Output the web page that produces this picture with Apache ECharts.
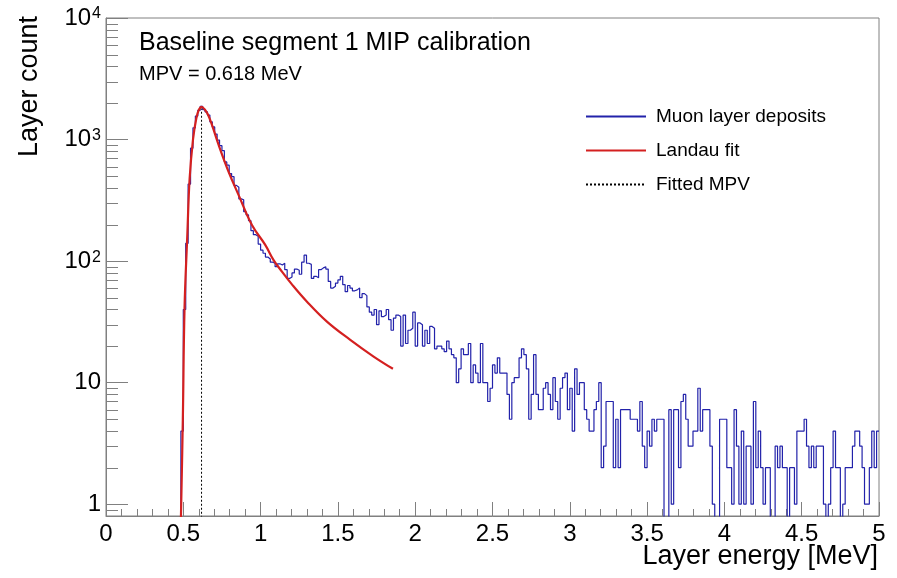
<!DOCTYPE html>
<html>
<head>
<meta charset="utf-8">
<script src="https://cdn.jsdelivr.net/npm/echarts@6/dist/echarts.min.js"></script>
<style>
html,body{margin:0;padding:0;background:#ffffff;}
#chart{width:897px;height:578px;}
</style>
</head>
<body>
<div id="chart"></div>
<script>
// ---------------- data ----------------
const histRange = [0, 5];
// counts per bin (320 bins of 0.015625 MeV)
const counts = [
  0,0,0,0,0,0,0,0,0,0,
  0,0,0,0,0,0,0,0,0,0,
  0,0,0,0,0,0,0,0,0,0,
  0,4,40,140,430,850,1250,1560,1740,1880,
  1760,1690,1590,1400,1270,1110,990,890,810,655,
  615,525,495,420,405,325,320,255,240,215,
  178,165,160,138,123,116,108,104,98,96,
  90,95,93,96,85,72,74,80,86,84,
  78,98,112,96,94,72,75,73,85,88,
  90,86,68,60,62,66,70,75,64,56,
  63,60,57,58,60,50,54,52,42,38,
  36,40,30,39,35,36,40,33,27,34,
  36,35,20,36,21,27,28,38,20,31,
  30,20,27,21,29,28,19,20,20,19,
  18,22,19,17,16,10,13,19,17,17,
  21,10,14,12,10,21,10,10,7,9,
  14,12,16,12,12,12,8,5,10,11,
  11,16,19,17,13,5,8,17,8,6,
  6,9,10,8,6,11,7,5,9,11,
  12,6,9,4,13,8,10,10,6,5,
  4,4,6,7,10,2,3,7,7,7,
  2,5,2,6,6,6,6,5,5,5,
  4,7,3,2,4,3,5,4,5,5,
  5,0,0,6,1,6,6,2,7,8,
  5,3,3,4,4,9,4,6,6,6,
  3,1,0,0,5,5,5,2,2,1,
  6,3,1,4,1,3,3,1,7,2,
  4,2,1,2,2,0,0,3,2,3,
  2,2,0,2,2,1,4,4,4,5,
  3,2,3,2,3,3,3,1,0,1,
  2,4,2,2,0,1,2,2,2,3,
  4,4,3,2,1,1,2,4,2,4
];
// Landau fit curve
const fitX = [0.484,0.497,0.508,0.526,0.541,0.563,0.584,0.600,0.618,0.640,0.660,0.686,0.729,0.793,0.858,0.944,1.030,1.084,1.138,1.200,1.300,1.429,1.580,1.731,1.856];
const fitY = [0.7,5,41,164,478,1010,1490,1750,1860,1760,1600,1313,900,543,349,198,136,102,82,65,46.4,31.8,22.5,16.4,13.0];
const mpvValue = 0.618;
const mpvTop = 1800;
const xTickLabels = ['0','0.5','1','1.5','2','2.5','3','3.5','4','4.5','5'];
const yMinorTicks = [0.9,2,3,4,5,6,7,8,9,20,30,40,50,60,70,80,90,200,300,400,500,600,700,800,900,2000,3000,4000,5000,6000,7000,8000,9000];
const legendNames = ['Muon layer deposits','Landau fit','Fitted MPV'];
const titleText = 'Baseline segment 1 MIP calibration';
const subText = 'MPV = 0.618 MeV';
const xTitle = 'Layer energy [MeV]';
const yTitle = 'Layer count';

// ---------------- build ----------------
const FONT = '"Liberation Sans", Arial, Helvetica, sans-serif';
const nb = counts.length;
const bw = (histRange[1] - histRange[0]) / nb;
const emptyLevel = 0.1; // empty bins fall below the frame
const histPts = [];
for (let i = 0; i < nb; i++) {
  const v = counts[i] > 0 ? counts[i] : emptyLevel;
  histPts.push([histRange[0] + i * bw, v], [histRange[0] + (i + 1) * bw, v]);
}
const fitPts = fitX.map((x, i) => [x, fitY[i]]);
const axisGray = '#808080';

const chart = echarts.init(document.getElementById('chart'), null, {renderer: 'canvas'});
chart.setOption({
  animation: false,
  backgroundColor: '#ffffff',
  grid: {left: 106, right: 18, top: 18, bottom: 62, show: true, borderColor: axisGray, borderWidth: 1, backgroundColor: 'transparent'},
  legend: {
    show: true, orient: 'vertical', left: 580, top: 102,
    itemWidth: 60, itemHeight: 14, itemGap: 15,
    itemStyle: {opacity: 0},
    textStyle: {fontSize: 19, fontFamily: FONT, color: '#000', padding: [0, 0, 0, 5]},
    data: legendNames
  },
  xAxis: {
    type: 'value', min: 0, max: 5, interval: 0.5,
    axisLine: {show: true, lineStyle: {color: axisGray, width: 1}},
    axisTick: {show: true, inside: true, length: 14, lineStyle: {color: axisGray}},
    minorTick: {show: true, splitNumber: 5, length: 7, lineStyle: {color: axisGray}},
    splitLine: {show: false}, minorSplitLine: {show: false},
    axisLabel: {
      show: true, margin: 6, fontSize: 24, fontFamily: FONT, color: '#000',
      showMinLabel: true, showMaxLabel: true,
      formatter: function (v) { const k = Math.round(v / 0.5); return xTickLabels[k] !== undefined ? xTickLabels[k] : ''; }
    }
  },
  yAxis: {
    type: 'log', logBase: 10, min: 0.8, max: 10000,
    axisLine: {show: true, lineStyle: {color: axisGray, width: 1}},
    axisTick: {show: true, inside: true, length: 22, lineStyle: {color: axisGray}},
    splitLine: {show: false},
    axisLabel: {
      show: true, margin: 5, fontSize: 24, fontFamily: FONT, color: '#000', showMinLabel: false,
      formatter: function (v) {
        const e = Math.round(Math.log10(v));
        if (Math.abs(v - Math.pow(10, e)) > 1e-6 * Math.pow(10, e)) return '';
        if (e === 0) return '1';
        if (e === 1) return '10';
        return '10{sup|' + e + '}';
      },
      rich: {sup: {fontSize: 16, fontFamily: FONT, color: '#000', verticalAlign: 'top', lineHeight: 14, padding: [0, 0, 12, 1]}}
    }
  },
  series: [
    {
      name: legendNames[0], type: 'line', data: histPts, symbol: 'none', clip: true,
      lineStyle: {color: '#2222aa', width: 1.2}, itemStyle: {color: '#2222aa'}, z: 3, silent: true
    },
    {
      name: legendNames[1], type: 'line', data: fitPts, symbol: 'none', clip: true,
      smooth: 0.4,
      lineStyle: {color: '#d42020', width: 2.2}, itemStyle: {color: '#d42020'}, z: 4, silent: true
    },
    {
      name: legendNames[2], type: 'line', data: [[mpvValue, emptyLevel], [mpvValue, mpvTop]], symbol: 'none', clip: true,
      lineStyle: {color: '#000', width: 1, type: [2, 2]}, itemStyle: {color: '#000'}, z: 5, silent: true
    },
    {
      name: 'yMinor', type: 'custom', data: yMinorTicks.map(v => [histRange[0], v]), silent: true, z: 6,
      renderItem: function (params, api) {
        const p = api.coord([api.value(0), api.value(1)]);
        const y = Math.round(p[1]) + 0.5;
        return {type: 'line', shape: {x1: p[0], y1: y, x2: p[0] + 12, y2: y}, style: {stroke: axisGray, lineWidth: 1}};
      }
    }
  ],
  graphic: [
    {type: 'text', x: 139, y: 31, style: {text: titleText, font: '25px ' + FONT, fill: '#000', align: 'left', verticalAlign: 'top'}},
    {type: 'text', x: 139, y: 64, style: {text: subText, font: '20px ' + FONT, fill: '#000', align: 'left', verticalAlign: 'top'}},
    {type: 'text', x: 878, y: 543, style: {text: xTitle, font: '27px ' + FONT, fill: '#000', align: 'right', verticalAlign: 'top'}},
    {type: 'text', x: 16, y: 16, rotation: Math.PI / 2, style: {text: yTitle, font: '27px ' + FONT, fill: '#000', align: 'right', verticalAlign: 'top'}}
  ]
});
</script>
</body>
</html>
